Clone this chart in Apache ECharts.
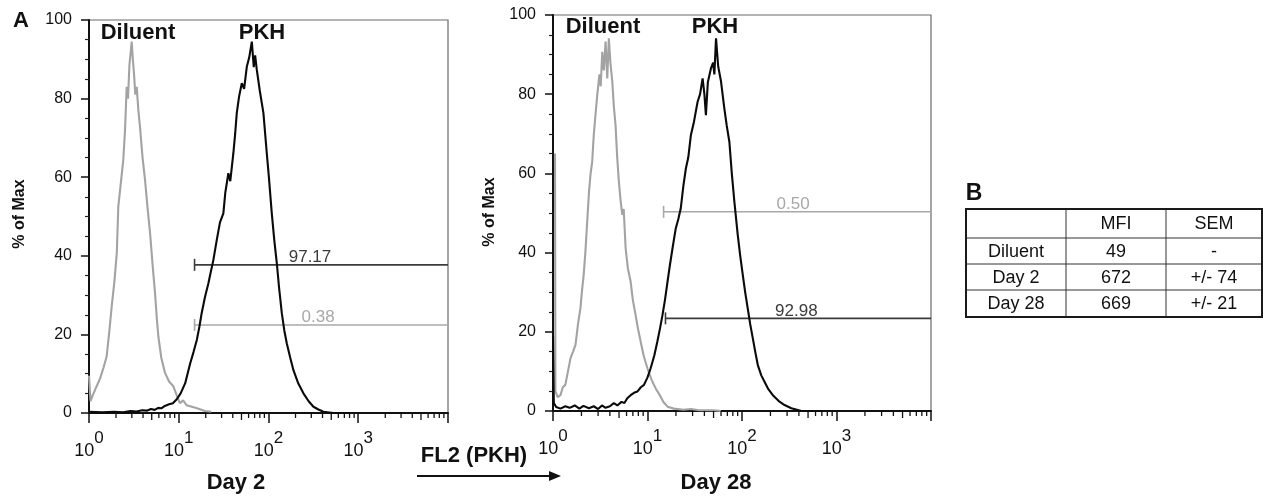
<!DOCTYPE html>
<html>
<head>
<meta charset="utf-8">
<script src="https://cdn.jsdelivr.net/npm/echarts@6/dist/echarts.min.js"></script>
<style>
html,body{margin:0;padding:0;background:#fff;}
#chart{width:1263px;height:497px;}
</style>
</head>
<body>
<div id="chart"></div>
<script>
// ---------- DATA ----------
const panelTitles = ['Day 2', 'Day 28'];
const seriesNames = ['Diluent', 'PKH'];
const yTicks = [0, 20, 40, 60, 80, 100];
const xMinorTicks = [2,3,4,5,6,7,8,9,20,30,40,50,60,70,80,90,200,300,400,500,600,700,800,900,2000,3000,4000,5000,6000,7000,8000,9000];

// Day 2 histograms [FL2 value, % of Max]
const day2Diluent = [[1.0,9.5],[1.04,3.0],[1.1,4.5],[1.2,6.5],[1.33,8.8],[1.45,11.5],[1.57,14.3],[1.68,20.5],[1.79,27.1],[1.92,33.5],[2.04,40.7],[2.12,52.5],[2.25,58.0],[2.41,64.4],[2.52,72.0],[2.63,83.0],[2.72,80.0],[2.82,88.5],[2.92,92.0],[2.99,94.5],[3.08,90.0],[3.18,86.0],[3.28,81.0],[3.40,83.0],[3.55,77.0],[3.70,72.8],[3.95,65.0],[4.21,59.3],[4.50,52.0],[4.79,45.8],[5.10,38.0],[5.44,30.5],[5.70,24.0],[5.93,19.4],[6.4,14.0],[7.03,10.2],[7.8,8.0],[8.71,6.8],[9.5,4.5],[10.3,2.5],[11.2,3.2],[12.2,2.0],[14.0,1.6],[16.0,1.2],[19.6,0.5],[23,0.3]];
const day2PKH = [[1.0,0.3],[1.4,0.2],[1.9,0.3],[2.4,0.2],[2.9,0.5],[3.4,0.4],[3.9,0.7],[4.4,0.6],[4.9,1.0],[5.4,0.8],[5.9,1.3],[6.4,1.2],[7.0,1.8],[7.8,2.2],[8.6,2.5],[9.5,3.5],[10.5,5.0],[11.8,7.6],[13.4,12.6],[14.6,15.5],[15.9,18.6],[17.0,22.0],[18.0,25.4],[19.6,29.5],[21.4,33.0],[22.8,36.0],[24.3,38.9],[26.5,44.0],[28.8,48.5],[31.4,50.8],[33.0,56.0],[35.7,61.0],[37.5,59.0],[40.6,66.1],[42.5,71.0],[44.3,76.3],[47.0,80.5],[50.4,83.9],[53.5,82.5],[57.3,88.1],[61.0,90.5],[65.2,94.5],[68.5,88.0],[71.0,91.0],[74.1,87.3],[80.0,82.0],[87.8,76.3],[95.7,66.1],[101,60.0],[108.8,50.8],[116,44.0],[123.8,38.1],[131,32.0],[140.7,25.4],[150,21.0],[160,17.7],[175,14.0],[189.6,10.9],[215,7.5],[245,5.0],[280,3.0],[317,1.6],[360,0.9],[409,0.3],[530,0.0],[800,0.0]];

// Day 28 histograms
const day28Diluent = [[1.05,65],[1.06,5.0],[1.08,4.9],[1.12,3.5],[1.20,4.0],[1.27,6.0],[1.35,6.6],[1.44,10.0],[1.53,13.3],[1.63,15.0],[1.73,16.7],[1.84,22.0],[1.95,25.9],[2.02,30.0],[2.11,34.3],[2.20,40.0],[2.30,47.8],[2.40,55.0],[2.49,59.6],[2.60,63.0],[2.70,69.7],[2.82,75.0],[2.94,79.8],[3.10,85.0],[3.20,82.0],[3.32,90.7],[3.45,86.0],[3.60,93.3],[3.75,84.0],[3.90,94.1],[4.05,88.0],[4.24,83.2],[4.40,77.0],[4.59,72.2],[4.78,64.0],[4.98,57.9],[5.20,53.0],[5.41,49.5],[5.60,51.0],[5.87,41.1],[6.20,36.0],[6.63,32.7],[7.00,28.0],[7.49,24.2],[7.90,21.0],[8.47,17.5],[9.10,14.0],[9.98,10.8],[11.0,8.0],[12.2,5.7],[13.5,4.0],[14.8,2.2],[16.3,1.1],[19,0.6],[24,0.3],[28.8,0.5],[35,0.2],[50.5,0.2],[60,0.0]];
const day28PKH = [[1.0,19.0],[1.02,2.0],[1.08,1.0],[1.2,0.6],[1.35,1.2],[1.5,0.8],[1.7,1.4],[1.9,0.6],[2.1,1.3],[2.4,0.7],[2.7,1.2],[3.0,0.5],[3.3,1.4],[3.6,0.8],[4.0,1.2],[4.4,2.0],[4.8,1.4],[5.3,2.3],[5.7,2.0],[6.11,3.2],[6.63,4.0],[7.2,4.6],[7.81,4.9],[8.5,6.0],[9.18,6.6],[10.0,8.5],[10.8,10.8],[11.8,14.0],[12.7,17.5],[13.6,21.0],[14.4,24.2],[15.3,28.0],[16.3,32.7],[17.3,37.0],[18.4,41.1],[19.9,46.1],[21.2,48.5],[22.5,51.2],[24.0,57.0],[25.5,61.3],[27.0,64.0],[28.8,69.7],[31.0,73.0],[33.9,78.1],[36.0,80.0],[38.3,84.0],[40.0,80.0],[41.5,74.7],[43.5,83.0],[46.9,86.5],[49.5,88.0],[51.0,85.0],[53.1,94.1],[56.0,87.0],[60.0,83.2],[65.0,76.4],[69.0,72.0],[73.5,68.0],[78.0,60.0],[83.0,52.9],[90.2,44.4],[96.0,39.0],[102,34.3],[108,30.0],[115,25.9],[122,22.0],[130,18.4],[138,15.0],[147,11.6],[160,9.0],[173,7.4],[190,5.5],[212,4.0],[245,2.5],[282,1.5],[333,0.7],[425,0.0],[700,0.0]];

// Gates: [start value, level (% of Max), label anchor value]
const day2Gates = [[15, 37.7, 290], [15, 22.4, 357]];
const day2GateLabels = ['97.17', '0.38'];
const day2GateKinds = ['pkh', 'diluent'];
const day28Gates = [[14.8, 50.3, 347], [15.5, 23.4, 376]];
const day28GateLabels = ['0.50', '92.98'];
const day28GateKinds = ['diluent', 'pkh'];

// Table B
const tableHeader = ['', 'MFI', 'SEM'];
const tableRowNames = ['Diluent', 'Day 2', 'Day 28'];
const tableMFI = ['49', '672', '669'];
const tableSEM = ['-', '+/- 74', '+/- 21'];

// ---------- STYLE ----------
const FONT = "'Liberation Sans', Arial, sans-serif";
const GRAY = '#a3a3a3';
const BLACK = '#0a0a0a';
const GATE_COL = {pkh: '#3c3c3c', diluent: '#a8a8a8'};

const chart = echarts.init(document.getElementById('chart'), null, {renderer: 'canvas'});

const grids = [
  {left: 89, top: 20, width: 359, height: 393, show: true, borderColor: '#6a6a6a', borderWidth: 1.2, backgroundColor: 'transparent'},
  {left: 553, top: 15, width: 378, height: 396, show: true, borderColor: '#6a6a6a', borderWidth: 1.2, backgroundColor: 'transparent'}
];

function xAxisFor(i) {
  return {
    type: 'log', logBase: 10, gridIndex: i, min: 1, max: 10000,
    axisLine: {show: true, onZero: false, lineStyle: {color: '#111', width: 2}},
    axisTick: {show: true, length: 10, lineStyle: {color: '#111', width: 1.5}},
    splitLine: {show: false},
    minorTick: {show: false},
    axisLabel: {
      margin: 17,
      formatter: function (v) {
        const e = Math.round(Math.log10(v));
        if (e > 3) return '';
        return '{b|10}{s|' + e + '}';
      },
      rich: {
        b: {fontSize: 18, fontFamily: FONT, color: '#111', lineHeight: 30, verticalAlign: 'bottom'},
        s: {fontSize: 17, fontFamily: FONT, color: '#111', lineHeight: 30, verticalAlign: 'top'}
      }
    }
  };
}
function yAxisFor(i) {
  return {
    type: 'value', gridIndex: i, min: 0, max: 100, interval: 20,
    axisLine: {show: true, lineStyle: {color: '#111', width: 2}},
    axisTick: {show: true, length: 8, lineStyle: {color: '#111', width: 1.5}},
    minorTick: {show: true, splitNumber: 4, length: 4, lineStyle: {color: '#222', width: 1.2}},
    splitLine: {show: false},
    axisLabel: {margin: 17, fontSize: 16, fontFamily: FONT, color: '#111',
      customValues: yTicks}
  };
}

function gateSeries(gi, gates, labels, kinds) {
  return {
    type: 'custom', coordinateSystem: 'cartesian2d', xAxisIndex: gi, yAxisIndex: gi,
    silent: true, z: 1, clip: false,
    data: gates,
    encode: {x: 0, y: 1},
    renderItem: function (params, api) {
      const x0 = api.value(0), lv = api.value(1), lx = api.value(2);
      const col = GATE_COL[kinds[params.dataIndex]];
      const p0 = api.coord([x0, lv]);
      const p1 = api.coord([10000, lv]);
      const pl = api.coord([lx, lv]);
      return {
        type: 'group',
        children: [
          {type: 'line', shape: {x1: p0[0], y1: p0[1], x2: p1[0], y2: p1[1]}, style: {stroke: col, lineWidth: 1.6}},
          {type: 'line', shape: {x1: p0[0], y1: p0[1] - 6, x2: p0[0], y2: p0[1] + 6}, style: {stroke: col, lineWidth: 1.6}},
          {type: 'text', style: {text: labels[params.dataIndex], x: pl[0], y: pl[1] + 1, fill: col,
            font: '17px ' + FONT, align: 'center', verticalAlign: 'bottom', textAlign: 'center', textVerticalAlign: 'bottom'}}
        ]
      };
    }
  };
}

function minorTickSeries(gi) {
  return {
    type: 'custom', coordinateSystem: 'cartesian2d', xAxisIndex: gi, yAxisIndex: gi,
    silent: true, clip: false, z: 5,
    data: xMinorTicks.map(v => [v, 0]),
    encode: {x: 0, y: 1},
    renderItem: function (params, api) {
      const v = api.value(0);
      const p = api.coord([v, 0]);
      const len = (String(v)[0] === '5') ? 7 : 5;
      return {type: 'line', shape: {x1: p[0], y1: p[1], x2: p[0], y2: p[1] + len},
        style: {stroke: '#111', lineWidth: 1.3}};
    }
  };
}

function histSeries(gi, name, data, color, z) {
  return {
    type: 'line', name: name, xAxisIndex: gi, yAxisIndex: gi, data: data,
    showSymbol: false, symbol: 'none', z: z, silent: true,
    lineStyle: {color: color, width: 2.1}
  };
}

// Table graphic built from the table arrays
const colEdges = [966, 1066, 1166, 1262];
const rowEdges = [209, 238, 264, 290, 317];
const tableRows = [tableHeader].concat(tableRowNames.map((n, i) => [n, tableMFI[i], tableSEM[i]]));
const tableGraphics = [];
tableRows.forEach((row, r) => {
  row.forEach((cell, c) => {
    if (!cell) return;
    tableGraphics.push({
      type: 'text', silent: true,
      style: {text: cell, x: (colEdges[c] + colEdges[c + 1]) / 2, y: (rowEdges[r] + rowEdges[r + 1]) / 2 + 1,
        font: '18px ' + FONT, fill: '#111', align: 'center', verticalAlign: 'middle', textAlign: 'center', textVerticalAlign: 'middle'}
    });
  });
});
for (let r = 1; r < rowEdges.length - 1; r++) {
  tableGraphics.push({type: 'line', silent: true, shape: {x1: colEdges[0], y1: rowEdges[r], x2: colEdges[3], y2: rowEdges[r]}, style: {stroke: '#333', lineWidth: 1}});
}
for (let c = 1; c < colEdges.length - 1; c++) {
  tableGraphics.push({type: 'line', silent: true, shape: {x1: colEdges[c], y1: rowEdges[0], x2: colEdges[c], y2: rowEdges[4]}, style: {stroke: '#333', lineWidth: 1}});
}
tableGraphics.push({type: 'rect', silent: true, shape: {x: colEdges[0], y: rowEdges[0], width: colEdges[3] - colEdges[0], height: rowEdges[4] - rowEdges[0]},
  style: {fill: 'none', stroke: '#1a1a1a', lineWidth: 2}});

function txt(text, x, y, size, weight, extra) {
  return Object.assign({
    type: 'text', silent: true, x: x, y: y,
    style: {text: text, x: 0, y: 0, font: (weight || 'normal') + ' ' + size + 'px ' + FONT, fill: '#111',
      align: 'center', verticalAlign: 'middle', textAlign: 'center', textVerticalAlign: 'middle'}
  }, extra || {});
}

const graphics = [
  txt('A', 21, 21, 22, 'bold'),
  txt('B', 974, 194, 23, 'bold'),
  txt('% of Max', 20, 214, 16, 'bold', {rotation: Math.PI / 2}),
  txt('% of Max', 490, 212, 16, 'bold', {rotation: Math.PI / 2}),
  txt(seriesNames[0], 138, 33, 22, 'bold'),
  txt(seriesNames[1], 262, 33, 22, 'bold'),
  txt(seriesNames[0], 603, 27, 22, 'bold'),
  txt(seriesNames[1], 715, 27, 22, 'bold'),
  txt(panelTitles[0], 236, 483, 22, 'bold'),
  txt(panelTitles[1], 716, 483, 22, 'bold'),
  txt('FL2 (PKH)', 474, 456, 22, 'bold'),
  {type: 'line', silent: true, shape: {x1: 417, y1: 476, x2: 552, y2: 476}, style: {stroke: '#111', lineWidth: 2.2}},
  {type: 'polygon', silent: true, shape: {points: [[561, 476], [549, 471], [549, 481]]}, style: {fill: '#111'}}
].concat(tableGraphics);

chart.setOption({
  animation: false,
  backgroundColor: '#fff',
  grid: grids,
  xAxis: [xAxisFor(0), xAxisFor(1)],
  yAxis: [yAxisFor(0), yAxisFor(1)],
  series: [
    gateSeries(0, day2Gates, day2GateLabels, day2GateKinds),
    gateSeries(1, day28Gates, day28GateLabels, day28GateKinds),
    histSeries(0, seriesNames[0], day2Diluent, GRAY, 2),
    histSeries(0, seriesNames[1], day2PKH, BLACK, 3),
    histSeries(1, seriesNames[0], day28Diluent, GRAY, 2),
    histSeries(1, seriesNames[1], day28PKH, BLACK, 3),
    minorTickSeries(0),
    minorTickSeries(1)
  ],
  graphic: graphics
});
</script>
</body>
</html>
